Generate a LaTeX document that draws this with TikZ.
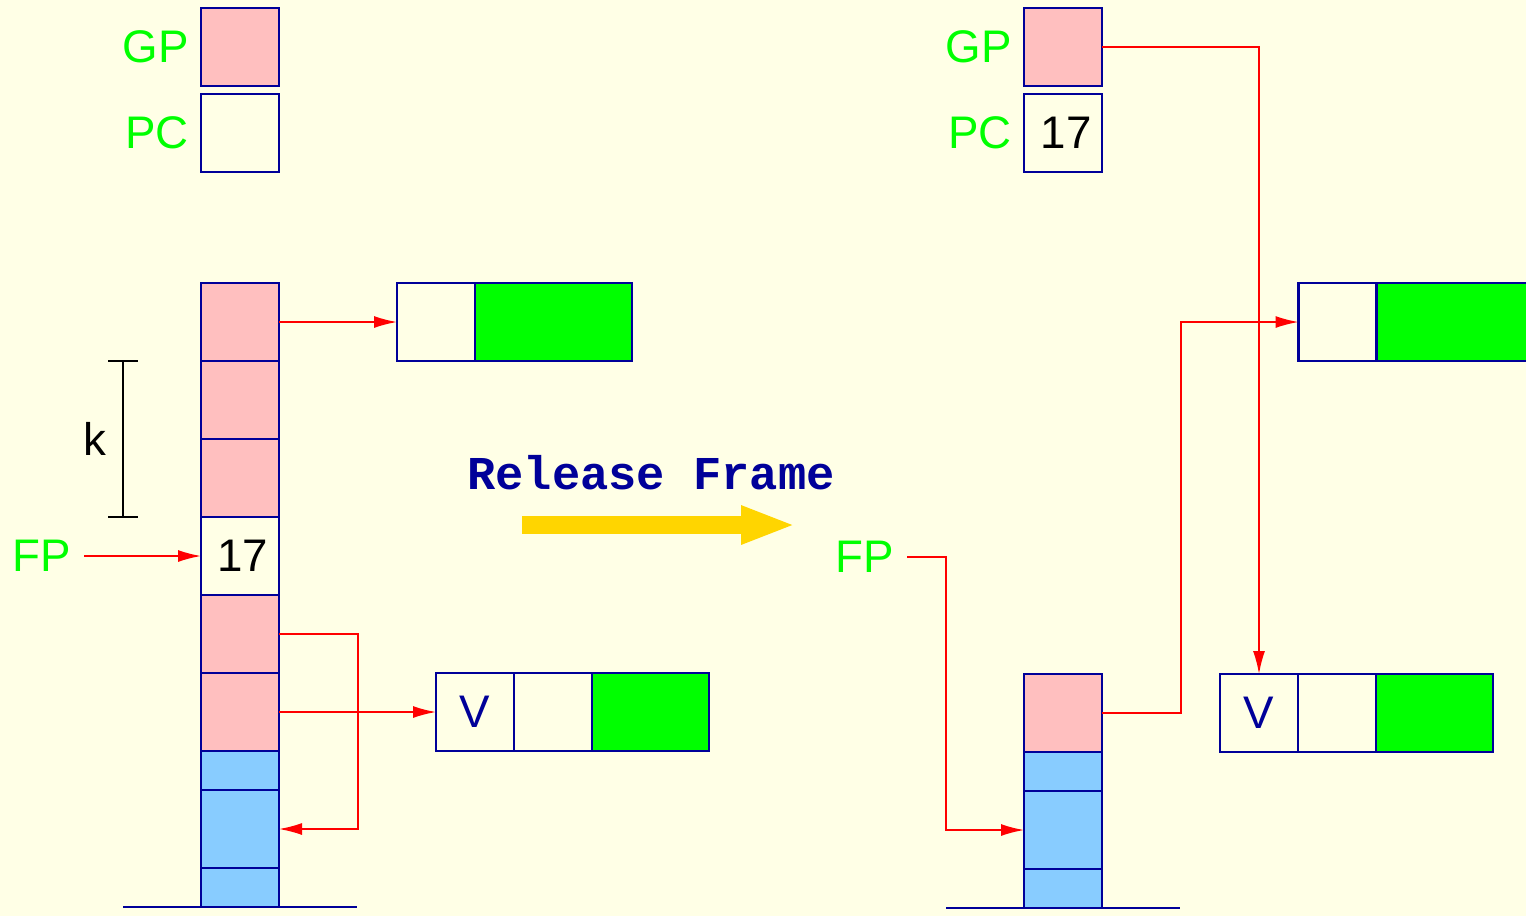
\documentclass[tikz,border=0pt]{standalone}
\usepackage{fontspec}
\setmainfont{Liberation Sans}
\setmonofont{Liberation Mono}
\usetikzlibrary{positioning, arrows.meta}

\definecolor{bgcol}{HTML}{FFFFE6}
\definecolor{framecol}{HTML}{000099}
\definecolor{pinkcol}{HTML}{FFBFBF}
\definecolor{bluecol}{HTML}{88CCFF}
\definecolor{greencol}{HTML}{00FF00}
\definecolor{goldcol}{HTML}{FFD500}

\begin{document}
\begin{tikzpicture}[
        x=0.1mm, y=-0.1mm,
        node distance=0pt,
        cell/.style={
          rectangle,
          draw=framecol,
          line width=0.6pt,
          minimum width=7.8mm,
          minimum height=7.8mm,
          inner sep=0pt,
          outer sep=0pt,
          font=\fontsize{13}{15}\selectfont
        },
        refcell/.style={cell, fill=pinkcol},
        stkcell/.style={cell, fill=bluecol},
        halfcell/.style={cell, fill=bluecol, minimum height=3.9mm},
        regname/.style={
          text=greencol,
          inner sep=1.15mm,
          font=\fontsize{13}{15}\selectfont
        },
        ptr/.style={
          -{Latex[length=2.3mm, width=1.2mm]},
          draw=red,
          line width=0.45pt
        },
        baseline/.style={draw=framecol, line width=0.6pt},
        bigarrow/.style={
          -{Triangle[length=5.5mm, width=3.5mm]},
          draw=goldcol,
          line width=1.8mm
        }
      ]

      % Background
      \fill[bgcol] (0,0) rectangle (1526,916);
      \useasboundingbox (0,0) rectangle (1526,916);

      % Registers before
      \node [refcell] (gp1) at (240,47) {};
      \node [cell, below=0.8mm of gp1] (pc1) {};
      \node [regname, left=0pt of gp1] (gpl1) {GP};
      \node [regname, left=0pt of pc1] (pcl1) {PC};

      % Stack before
      \node [refcell] (s1) at (240,322) {};
      \node [refcell, below=of s1] (s2) {};
      \node [refcell, below=of s2] (s3) {};
      \node [cell, below=of s3] (s4) {\hspace{0.6mm}17};
      \node [refcell, below=of s4] (s5) {};
      \node [refcell, below=of s5] (s6) {};
      \node [halfcell, below=of s6] (s7) {};
      \node [stkcell, below=of s7] (s8) {};
      \node [halfcell, below=of s8] (s9) {};
      \draw [baseline] ([xshift=-7.8mm]s9.south west) -- ([xshift=7.8mm]s9.south east);

      \node [regname, left=12.9mm of s4, inner sep=0pt] (fp1) {FP};

      % Heap before
      \node [cell, right=11.8mm of s1] (h1a) {};
      \node [cell, fill=greencol, minimum width=15.7mm, right=of h1a] (h1b) {};
      \node [cell, text=framecol, right=15.7mm of s6] (h2a) {V};
      \node [cell, right=of h2a] (h2b) {};
      \node [cell, fill=greencol, minimum width=11.7mm, right=of h2b] (h2c) {};

      % k bracket
      \draw [line width=0.6pt] ([xshift=-7.8mm]s2.north west) coordinate (ktop)
        -- ([xshift=-7.8mm]s3.south west) coordinate (kbot)
        node [midway, left, inner sep=1.6mm, font=\fontsize{13}{15}\selectfont] (klab) {k};
      \draw [line width=0.6pt] ([xshift=-1.5mm]ktop) -- ([xshift=1.5mm]ktop);
      \draw [line width=0.6pt] ([xshift=-1.5mm]kbot) -- ([xshift=1.5mm]kbot);

      % Arrows before
      \draw [ptr] ([xshift=1.2mm]fp1.east) -- (s4.west);
      \draw [ptr] (s1.east) -- (h1a.west);
      \draw [ptr] (s6.east) -- (h2a.west);
      \draw [ptr] (s5.east) -- ++(7.9mm,0) |- (s8.east);

      % Transition
      \node [text=framecol, font=\fontsize{13.4}{15}\ttfamily\bfseries] (rel) at (651,473) {Release Frame};
      \coordinate (ra) at (522,525);
      \coordinate (rb) at (796,525);
      \draw [bigarrow] (ra) -- (rb);

      % Registers after
      \node [refcell] (gp2) at (1063,47) {};
      \node [cell, below=0.8mm of gp2] (pc2) {\hspace{0.6mm}17};
      \node [regname, left=0pt of gp2] (gpl2) {GP};
      \node [regname, left=0pt of pc2] (pcl2) {PC};

      % Stack after
      \node [refcell] (r1) at (1063,713) {};
      \node [halfcell, below=of r1] (r2) {};
      \node [stkcell, below=of r2] (r3) {};
      \node [halfcell, below=of r3] (r4) {};
      \draw [baseline] ([xshift=-7.8mm]r4.south west) -- ([xshift=7.8mm]r4.south east);

      \node [regname, anchor=east, inner sep=0pt] (fp2) at (895,557) {FP};

      % Heap after
      \node [cell] (h3a) at (1337.5,322) {};
      \node [cell, fill=greencol, minimum width=15.7mm, right=of h3a] (h3b) {};
      \node [cell, text=framecol] (h4a) at (1259,713) {V};
      \node [cell, right=of h4a] (h4b) {};
      \node [cell, fill=greencol, minimum width=11.7mm, right=of h4b] (h4c) {};

      % Arrows after
      \draw [ptr] ([xshift=1.2mm]fp2.east) -| ([xshift=-7.8mm]r3.west) -- (r3.west);
      \draw [ptr] (gp2.east) -| (h4a.north);
      \draw [ptr] (r1.east) -- ++(7.9mm,0) |- (h3a.west);

    \end{tikzpicture}
\end{document}
